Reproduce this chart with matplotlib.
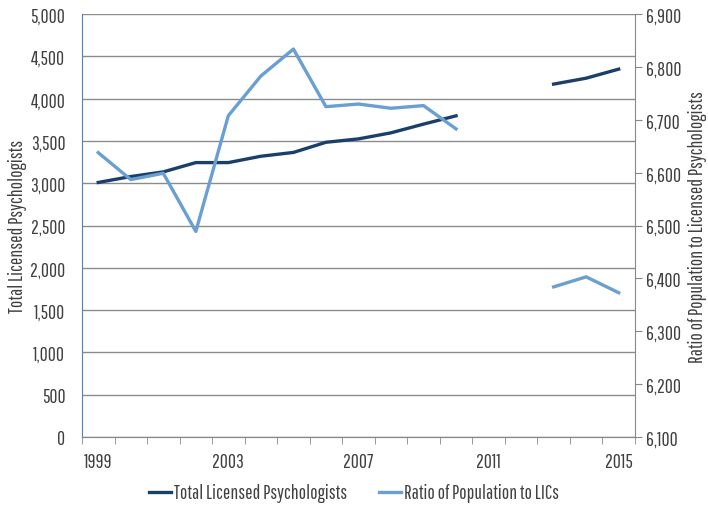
import matplotlib
matplotlib.use("Agg")
import matplotlib.pyplot as plt
import matplotlib.ticker as mticker
import numpy as np

years = np.arange(1999, 2016)
total_psych = [3010, 3080, 3135, 3245, 3245, 3320, 3365, 3485, 3525, 3597, 3700, 3798,
               np.nan, np.nan, 4173, 4243, 4350]
ratio_pop = [6638, 6587, 6599, 6489, 6708, 6783, 6834, 6725, 6730, 6722, 6727, 6683,
             np.nan, np.nan, 6384, 6403, 6373]
year_labels = [1999, 2003, 2007, 2011, 2015]

plt.rcParams["font.family"] = ["Pathway Gothic One", "DejaVu Sans"]
text_color = "#404040"
dark = "#1B3F6B"
light = "#6A9FD2"
fs = 14

fig = plt.figure(figsize=(7.08, 5.06), dpi=100)
ax = fig.add_axes([0.1158, 0.1344, 0.781, 0.8356])
ax2 = ax.twinx()

ax.plot(years, total_psych, color=dark, lw=2.4, label="Total Licensed Psychologists")
ax2.plot(years, ratio_pop, color=light, lw=2.4, label="Ratio of Population to LICs")

ax.set_xlim(1998.5, 2015.5)
ax.set_ylim(0, 5000)
ax2.set_ylim(6100, 6900)

ax.set_yticks(np.arange(0, 5001, 500))
ax.yaxis.set_major_formatter(mticker.FuncFormatter(lambda v, p: "{:,.0f}".format(v)))
ax2.set_yticks(np.arange(6100, 6901, 100))
ax2.yaxis.set_major_formatter(mticker.FuncFormatter(lambda v, p: "{:,.0f}".format(v)))

ax.set_xticks(year_labels)
ax.set_xticklabels([str(y) for y in year_labels])
ax.set_xticks(np.arange(1998.5, 2016, 1), minor=True)
ax.tick_params(axis="x", which="major", length=0, pad=11, labelsize=fs, colors=text_color)
ax.tick_params(axis="x", which="minor", length=5, color="#888888", direction="out")
ax.tick_params(axis="y", length=0, pad=12, labelsize=fs, colors=text_color)
ax2.tick_params(axis="y", length=5, color="#888888", pad=3, labelsize=fs, colors=text_color)

ax.grid(axis="y", color="#8c8c8c", lw=1)
ax.set_axisbelow(True)

ax.spines["top"].set_visible(False)
ax2.spines["top"].set_visible(False)
ax.spines["left"].set_color("#4F81BD")
ax2.spines["left"].set_visible(False)
ax.spines["right"].set_visible(False)
ax2.spines["right"].set_color("#888888")
ax2.spines["bottom"].set_color("#888888")
ax.spines["bottom"].set_color("#888888")

ax.set_ylabel("Total Licensed Psychologists", fontsize=fs, color=text_color, labelpad=2)
ax2.set_ylabel("Ratio of Population to Licensed Psychologists", fontsize=fs,
               color=text_color, labelpad=5)

h1, l1 = ax.get_legend_handles_labels()
h2, l2 = ax2.get_legend_handles_labels()
leg = fig.legend(h1 + h2, l1 + l2, loc="center", bbox_to_anchor=(0.5, 0.024), ncol=2,
                 frameon=False, fontsize=fs, handlelength=1.15, handletextpad=0.15,
                 columnspacing=1.6)
for t in leg.get_texts():
    t.set_color(text_color)

fig.savefig("out.png", dpi=100)
